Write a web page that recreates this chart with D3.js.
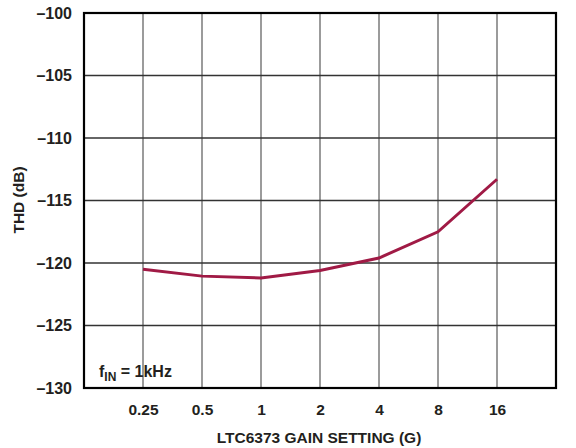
<!DOCTYPE html>
<html>
<head>
<meta charset="utf-8">
<script src="https://cdn.jsdelivr.net/npm/d3@7"></script>
<style>
  html, body { margin: 0; padding: 0; background: #fff; }
  text { font-family: "Liberation Sans", Arial, sans-serif; font-weight: bold; fill: #231f20; }
</style>
</head>
<body>
<svg id="chart" width="576" height="448"></svg>
<script>
const categories = ["0.25", "0.5", "1", "2", "4", "8", "16"];
const thdValues = [-120.5, -121.05, -121.2, -120.6, -119.6, -117.5, -113.3];
const yTicks = [-100, -105, -110, -115, -120, -125, -130];

(function () {
const svg = d3.select("#chart");
const pL = 84, pR = 556, pT = 13, pB = 388;
const fs = 15.5;

const x = d3.scaleLinear().domain([0, 8]).range([pL, pR]);
const y = d3.scaleLinear().domain([-130, -100]).range([pB, pT]);

const g = svg.append("g");

// vertical grid
g.selectAll("line.vg").data(d3.range(1, 8)).enter().append("line")
  .attr("x1", d => x(d)).attr("x2", d => x(d))
  .attr("y1", pT).attr("y2", pB)
  .attr("stroke", "#7a7a7a").attr("stroke-width", 1.5);

// horizontal grid
g.selectAll("line.hg").data(yTicks.slice(1, -1)).enter().append("line")
  .attr("x1", pL).attr("x2", pR)
  .attr("y1", d => y(d)).attr("y2", d => y(d))
  .attr("stroke", "#333").attr("stroke-width", 1.5);

// frame
g.append("rect").attr("x", pL).attr("y", pT)
  .attr("width", pR - pL).attr("height", pB - pT)
  .attr("fill", "none").attr("stroke", "#000").attr("stroke-width", 2.2);

// y axis labels
const yAxis = d3.axisLeft(y).tickValues(yTicks).tickSize(0).tickPadding(12)
  .tickFormat(d => "\u2013" + Math.abs(d));
const ya = svg.append("g").attr("transform", `translate(${pL},0)`).call(yAxis);
ya.select(".domain").remove();
ya.selectAll("text").attr("font-size", 16).attr("fill", "#231f20")
  .attr("font-family", "Liberation Sans, Arial, sans-serif").attr("font-weight", "bold");

// x axis labels
const xCat = d3.scalePoint().domain(categories).range([x(1), x(7)]);
const xAxis = d3.axisBottom(xCat).tickSize(0).tickPadding(16);
const xa = svg.append("g").attr("transform", `translate(0,${pB})`).call(xAxis);
xa.select(".domain").remove();
xa.selectAll("text").attr("font-size", fs).attr("fill", "#231f20")
  .attr("font-family", "Liberation Sans, Arial, sans-serif").attr("font-weight", "bold");

// line
const line = d3.line().x((d, i) => xCat(categories[i])).y(d => y(d));
svg.append("path").datum(thdValues).attr("d", line)
  .attr("fill", "none").attr("stroke", "#a01a45").attr("stroke-width", 3)
  .attr("stroke-linejoin", "miter");

// axis titles
svg.append("text").attr("x", 319).attr("y", 443).attr("text-anchor", "middle")
  .attr("font-size", fs).text("LTC6373 GAIN SETTING (G)");
svg.append("text").attr("transform", "translate(24,200) rotate(-90)")
  .attr("text-anchor", "middle").attr("font-size", fs).text("THD (dB)");

// annotation
const ann = svg.append("text").attr("x", 99).attr("y", 377).attr("font-size", 16);
ann.append("tspan").text("f");
ann.append("tspan").attr("font-size", 12).attr("dy", 4).text("IN");
ann.append("tspan").attr("dy", -4).text(" = 1kHz");
})();
</script>
</body>
</html>
